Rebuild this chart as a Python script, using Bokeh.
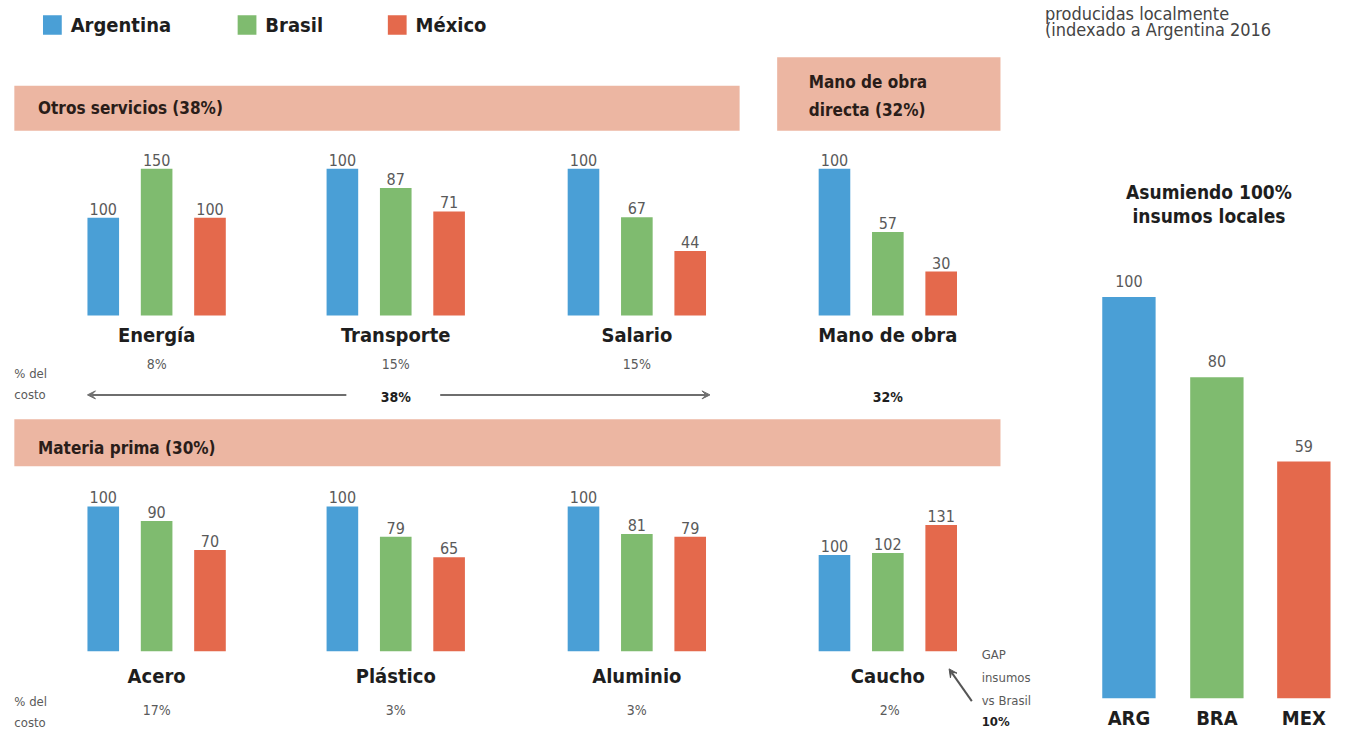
from bokeh.plotting import figure
from bokeh.models import Range1d, ColumnDataSource, Arrow, VeeHead
from bokeh.core.properties import value
from bokeh.embed import file_html
from bokeh.resources import INLINE

# ---------------- data ----------------
countries = ["Argentina", "Brasil", "México"]
colors = ["#4a9fd6", "#7fbb6f", "#e4694c"]

top_groups = ["Energía", "Transporte", "Salario", "Mano de obra"]
top_arg = [100, 100, 100, 100]
top_bra = [150, 87, 67, 57]
top_mex = [100, 71, 44, 30]
top_share = ["8%", "15%", "15%", ""]

bottom_groups = ["Acero", "Plástico", "Aluminio", "Caucho"]
bot_arg = [100, 100, 100, 100]
bot_bra = [90, 79, 81, 102]
bot_mex = [70, 65, 79, 131]
bot_share = ["17%", "3%", "3%", "2%"]

local_labels = ["ARG", "BRA", "MEX"]
local_values = [100, 80, 59]

# ---------------- layout / style ----------------
W, H = 1331, 732          # figure size in pixels
RW, RH = 1347, 748        # layout coordinate space
FONT = "'DejaVu Sans Condensed', Roboto, sans-serif"
DARK = "#1e1e1e"
GRAY = "#5a5a5a"
BAND = "#ecb6a2"

p = figure(width=W, height=H, output_backend="svg", toolbar_location=None,
           x_range=Range1d(0, RW), y_range=Range1d(RH, 0),
           min_border=0, background_fill_color="white", border_fill_color="white",
           outline_line_color=None)
p.xaxis.visible = False
p.yaxis.visible = False
p.grid.visible = False


def txt(x, y, s, size, bold=False, color=DARK, align="left", baseline="middle"):
    p.text(x=[x], y=[y], text=[s], text_font=value(FONT), text_font_size=value(f"{size}px"),
           text_font_style="bold" if bold else "normal", text_color=color,
           text_align=align, text_baseline=baseline)


# legend
for i, (c, col) in enumerate(zip(countries, colors)):
    lx = [43, 240, 392][i]
    p.quad(left=[lx], right=[lx + 19], top=[15], bottom=[35], fill_color=col, line_color=None)
    txt(lx + 28, 25, c, 20, bold=True)

# top-right note
txt(1057, 3, "producidas localmente", 18, color="#444444", baseline="top")
txt(1057, 30, "(indexado a Argentina 2016", 18, color="#444444")

# header bands
p.quad(left=[14], right=[748], top=[87], bottom=[133], fill_color=BAND, line_color=None)
txt(38, 110, "Otros servicios (38%)", 17, bold=True, color="#2a1d19")
p.quad(left=[786], right=[1012], top=[58], bottom=[133], fill_color=BAND, line_color=None)
txt(818, 83, "Mano de obra", 17, bold=True, color="#2a1d19")
txt(818, 112, "directa (32%)", 17, bold=True, color="#2a1d19")
p.quad(left=[14], right=[1012], top=[428], bottom=[476], fill_color=BAND, line_color=None)
txt(38, 457, "Materia prima (30%)", 17, bold=True, color="#2a1d19")

# group geometry
centers = [158, 400, 644, 898]
offsets = [-54, 0, 54]
BW = 32
KY = H / RH  # screen px per layout unit


def group_range(name, baseline, units_per_value):
    # y range in data units so that 0 sits on the given layout baseline
    start = -(RH - baseline) / units_per_value
    end = baseline / units_per_value
    p.extra_y_ranges[name] = Range1d(start, end)
    return name


top_scales = [1.0, 1.5, 1.5, 1.5]
bot_scales = [1.48, 1.48, 1.48, 0.985]


def draw_group(gname, cx, vals, scale, baseline):
    rn = group_range(gname, baseline, scale)
    xs = [cx + o for o in offsets]
    src = ColumnDataSource(dict(x=xs, top=vals, color=colors, lab=[str(v) for v in vals]))
    p.vbar(x="x", top="top", bottom=0, width=BW, fill_color="color", line_color=None,
           source=src, y_range_name=rn)
    p.text(x="x", y="top", text="lab", source=src, y_range_name=rn,
           text_font=value(FONT), text_font_size=value("16px"), text_color=GRAY,
           text_align="center", text_baseline="bottom", y_offset=-3)


for i, g in enumerate(top_groups):
    draw_group("top_" + str(i), centers[i], [top_arg[i], top_bra[i], top_mex[i]], top_scales[i], 322)
    txt(centers[i], 342, g, 20, bold=True, align="center")
    if top_share[i]:
        txt(centers[i], 371, top_share[i], 14, color=GRAY, align="center")

for i, g in enumerate(bottom_groups):
    draw_group("bot_" + str(i), centers[i], [bot_arg[i], bot_bra[i], bot_mex[i]], bot_scales[i], 665)
    txt(centers[i], 690, g, 20, bold=True, align="center")
    txt(centers[i] + (2 if i == 3 else 0), 725, bot_share[i], 14, color=GRAY, align="center")

# % del costo labels
for yy in (381, 716):
    txt(14, yy, "% del", 13, color=GRAY)
    txt(14, yy + 22, "costo", 13, color=GRAY)

# arrows 38%
for xs_, xe_ in ((350, 88), (445, 718)):
    p.add_layout(Arrow(x_start=xs_, y_start=403, x_end=xe_, y_end=403, line_color="#6e6e6e",
                       line_width=2, end=VeeHead(size=8, line_color="#6e6e6e", fill_color="#6e6e6e")))
txt(400, 405, "38%", 14, bold=True, align="center")
txt(898, 405, "32%", 14, bold=True, align="center")

# GAP annotation
p.add_layout(Arrow(x_start=983, y_start=716, x_end=960, y_end=683, line_color="#555555",
                   line_width=2, end=VeeHead(size=8, line_color="#555555", fill_color="#555555")))
txt(993, 668, "GAP", 13, color=GRAY)
txt(993, 692, "insumos", 13, color=GRAY)
txt(993, 715, "vs Brasil", 13, color=GRAY)
txt(993, 737, "10%", 13, bold=True)

# right panel
txt(1223, 196, "Asumiendo 100%", 19, bold=True, align="center")
txt(1223, 220, "insumos locales", 19, bold=True, align="center")
rn = group_range("local", 713, 4.1)
rx = [1142, 1231, 1319]
rsrc = ColumnDataSource(dict(x=rx, top=local_values, color=colors,
                             lab=[str(v) for v in local_values], name=local_labels))
p.vbar(x="x", top="top", bottom=0, width=54, fill_color="color", line_color=None,
       source=rsrc, y_range_name=rn)
p.text(x="x", y="top", text="lab", source=rsrc, y_range_name=rn,
       text_font=value(FONT), text_font_size=value("16px"), text_color=GRAY,
       text_align="center", text_baseline="bottom", y_offset=-10)
for x, lab in zip(rx, local_labels):
    txt(x, 733, lab, 20, bold=True, align="center")

open("out.html", "w").write(file_html(p, INLINE))
